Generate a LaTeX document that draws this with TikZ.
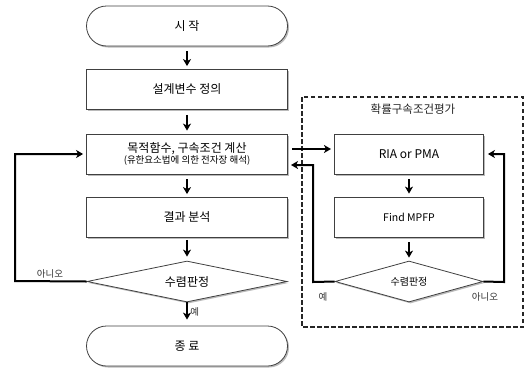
\documentclass[tikz,border=0pt]{standalone}
\usepackage{fontspec}
\setmainfont{Noto Sans CJK KR}
\usetikzlibrary{shapes.geometric,shadows,arrows.meta}
\begin{document}
\begin{tikzpicture}[x=1pt,y=-1pt,
  shd/.style={drop shadow={shadow xshift=1.5pt,shadow yshift=-1.5pt,fill=black!45,opacity=0.6}},
  procbox/.style={draw=black!75,fill=white,line width=0.8pt,minimum width=201pt,minimum height=40pt,shd,inner sep=0pt,font=\fontsize{12}{14}\selectfont},
  subbox/.style={procbox,minimum width=149pt},
  termbox/.style={procbox,rounded corners=20pt},
  decide/.style={diamond,aspect=4.9,draw=black!75,fill=white,line width=0.8pt,minimum width=200pt,minimum height=41pt,inner sep=0pt,shd,font=\fontsize{12}{14}\selectfont},
  flow/.style={line width=2pt,-{Stealth[length=7pt,width=8pt,inset=2pt]}},
  lbl/.style={font=\fontsize{9.5}{11}\selectfont,text=black!80}]
\useasboundingbox (0,0) rectangle (526,367);
% right dashed frame
\draw[dash pattern=on 4.5pt off 2.5pt,line width=1.2pt,draw=black!85] (302,97) rectangle (523,327);
\node[font=\fontsize{11.5}{13}\selectfont,text=black!85] (ttl) at (413,109) {확률구속조건평가};
% main column
\node[termbox] (start) at (187,26) {시 작};
\node[procbox] (def) at (187,89.5) {설계변수 정의};
\node[procbox,align=center] (calc) at (187,154) {목적함수, 구속조건 계산\\[-3pt]{\fontsize{9.5}{11}\selectfont (유한요소법에 의한 전자장 해석)}};
\node[procbox] (res) at (187,217.5) {결과 분석};
\node[decide] (dia1) at (187,281.5) {수렴판정};
\node[termbox] (end) at (187,346) {종 료};
% right column
\node[subbox] (ria) at (409,154) {RIA or PMA};
\node[subbox,font=\fontsize{10.5}{12}\selectfont] (mpfp) at (409,217) {Find MPFP};
\node[decide,minimum width=148pt,aspect=3.6,font=\fontsize{10}{12}\selectfont] (dia2) at (409,281.5) {수렴판정};
% arrows main
\draw[flow,shorten <=5pt,shorten >=3pt] (start) -- (def);
\draw[flow,shorten <=5pt,shorten >=3pt] (def) -- (calc);
\draw[flow,shorten <=5pt,shorten >=3pt] (calc) -- (res);
\draw[flow,shorten <=2pt,shorten >=4pt] (res) -- (dia1);
\draw[flow,shorten >=6pt] (dia1.south) -- (end.north) node[pos=0.4,right=-1pt,lbl] (yes1) {예};
\coordinate (l1) at (15,281);
\coordinate (l2) at (15,154);
\draw[flow,shorten >=3pt] (dia1.west) -- (l1) -- (l2) -- (calc.west);
\node[lbl] (no1) at (50,274) {아니오};
% arrows right
\draw[flow,shorten <=5pt,shorten >=3pt] (ria) -- (mpfp);
\draw[flow,shorten <=5pt,shorten >=3pt] (mpfp) -- (dia2);
\coordinate (c1) at (292,149);
\coordinate (c2) at (331,149);
\draw[flow] (c1) -- (c2);
\coordinate (r1) at (313,282);
\coordinate (r2) at (313,165);
\coordinate (r3) at (291,165);
\draw[flow] (dia2.west) -- (r1) -- (r2) -- (r3);
\coordinate (q1) at (504,282);
\coordinate (q2) at (504,154);
\draw[flow,shorten >=4pt] (dia2.east) -- (q1) -- (q2) -- (ria.east);
\node[lbl] (yes2) at (323,297) {예};
\node[lbl] (no2) at (485,297) {아니오};
\end{tikzpicture}
\end{document}
